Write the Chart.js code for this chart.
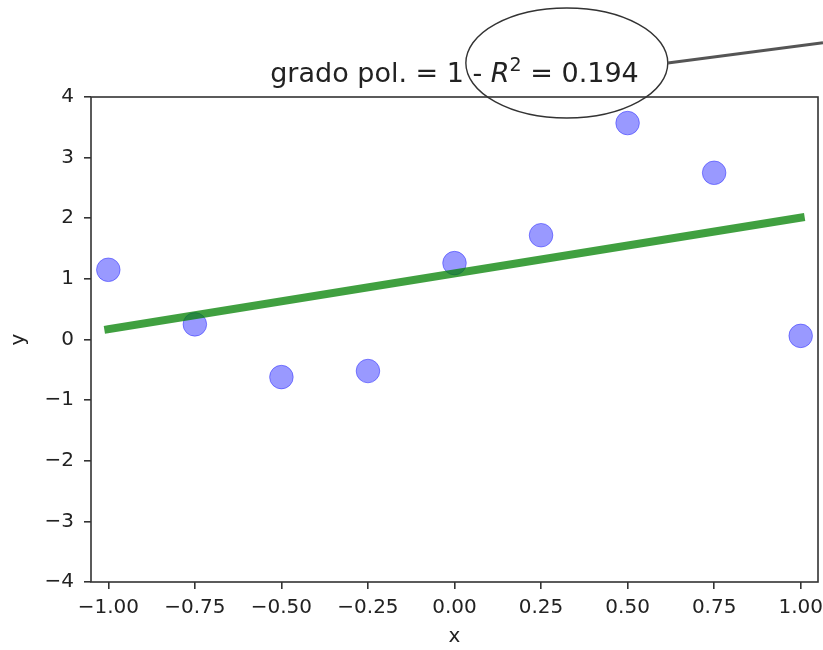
<!DOCTYPE html>
<html>
<head>
<meta charset="utf-8">
<title>grado pol. = 1</title>
<script src="https://cdn.jsdelivr.net/npm/chart.js@4.4.1/dist/chart.umd.min.js"></script>
<style>
    html, body { margin: 0; padding: 0; background: #fff; }
    #fitChart { display: block; }
</style>
</head>
<body>
<canvas id="fitChart" width="823" height="650"></canvas>
<script>
// ===============================
// DATA
// ===============================

const sampleX = [-1, -0.75, -0.5, -0.25, 0, 0.25, 0.5, 0.75, 1];
const sampleY = [1.15, 0.25, -0.62, -0.52, 1.26, 1.72, 3.57, 2.75, 0.06];

// fitted line (degree 1), evaluated at both ends
const fitX = [-1, 1];
const fitY = [0.17, 2.01];

const xTicks = [-1, -0.75, -0.5, -0.25, 0, 0.25, 0.5, 0.75, 1];
const yTicks = [-4, -3, -2, -1, 0, 1, 2, 3, 4];

const polyDegree = 1;
const rSquared = 0.194;

// ===============================
// HELPERS
// ===============================

const FONT = '"DejaVu Sans", sans-serif';
const INK = '#222';

function signed(v, digits) {
    const s = Math.abs(v).toFixed(digits);
    return v < 0 ? '\u2212' + s : s;
}

// title with italic R and superscript, circled R^2 part and a pointer line
const titlePlugin = {
    id: 'fitTitle',
    afterDraw(chart) {
        const { ctx, chartArea } = chart;
        const size = 27;
        const parts = [
            { text: 'grado pol. = ' + polyDegree + ' - ', font: `${size}px ${FONT}`, dy: 0 },
            { text: 'R', font: `italic ${size}px ${FONT}`, dy: 0 },
            { text: '2', font: `${Math.round(size * 0.7)}px ${FONT}`, dy: -11 },
            { text: ' = ' + rSquared.toFixed(3), font: `${size}px ${FONT}`, dy: 0 }
        ];

        ctx.save();
        let total = 0;
        parts.forEach(p => {
            ctx.font = p.font;
            p.w = ctx.measureText(p.text).width;
            total += p.w;
        });

        const baseline = chartArea.top - 15;
        let x = (chartArea.left + chartArea.right) / 2 - total / 2;
        let rStart = 0;
        ctx.fillStyle = INK;
        ctx.textBaseline = 'alphabetic';
        ctx.textAlign = 'left';
        parts.forEach((p, i) => {
            if (i === 1) rStart = x;
            ctx.font = p.font;
            ctx.fillText(p.text, x, baseline + p.dy);
            x += p.w;
        });
        const textEnd = x;

        // ellipse around "R^2 = ..."
        const cx = (rStart + textEnd) / 2 + 2;
        const cy = baseline - 19;
        const rx = (textEnd - rStart) / 2 + 27;
        const ry = 55;
        ctx.strokeStyle = '#333';
        ctx.lineWidth = 1.4;
        ctx.beginPath();
        ctx.ellipse(cx, cy, rx, ry, 0, 0, Math.PI * 2);
        ctx.stroke();

        // pointer line going off to the right
        const x0 = cx + rx;
        ctx.strokeStyle = '#555';
        ctx.lineWidth = 3;
        ctx.beginPath();
        ctx.moveTo(x0, cy);
        ctx.lineTo(chart.width, cy - (chart.width - x0) * 0.13);
        ctx.stroke();

        // axes frame
        ctx.strokeStyle = '#333';
        ctx.lineWidth = 1.6;
        ctx.strokeRect(chartArea.left, chartArea.top,
            chartArea.right - chartArea.left, chartArea.bottom - chartArea.top);
        ctx.restore();
    }
};

// ===============================
// CHART
// ===============================

const ctx = document.getElementById('fitChart');

new Chart(ctx, {
    type: 'scatter',
    data: {
        datasets: [
            {
                label: 'ajuste',
                data: fitX.map((x, i) => ({ x: x, y: fitY[i] })),
                showLine: true,
                borderColor: 'rgba(0,128,0,0.75)',
                borderWidth: 8,
                borderCapStyle: 'square',
                pointRadius: 0,
                order: 0
            },
            {
                label: 'datos',
                data: sampleX.map((x, i) => ({ x: x, y: sampleY[i] })),
                backgroundColor: 'rgba(0,0,255,0.4)',
                borderColor: 'rgba(0,0,255,0.4)',
                borderWidth: 1,
                pointRadius: 11.8,
                order: 1
            }
        ]
    },
    options: {
        responsive: false,
        animation: false,
        events: [],
        layout: {
            autoPadding: false,
            padding: { top: 97, right: 5, left: 0, bottom: 0 }
        },
        plugins: {
            legend: { display: false },
            tooltip: { enabled: false }
        },
        scales: {
            x: {
                type: 'linear',
                min: -1.05,
                max: 1.05,
                afterBuildTicks: scale => {
                    scale.ticks = xTicks.map(v => ({ value: v }));
                },
                afterFit: scale => {
                    scale.height = 68;
                    scale.paddingLeft = 0;
                    scale.paddingRight = 0;
                },
                ticks: {
                    autoSkip: false,
                    maxRotation: 0,
                    padding: 7,
                    color: INK,
                    font: { family: FONT, size: 20 },
                    callback: v => signed(v, 2)
                },
                grid: {
                    drawOnChartArea: false,
                    drawTicks: true,
                    tickLength: 7,
                    color: '#333',
                    lineWidth: 1.6
                },
                border: { display: false },
                title: {
                    display: true,
                    text: 'x',
                    color: INK,
                    font: { family: FONT, size: 20 },
                    padding: { top: 0, bottom: 1 }
                }
            },
            y: {
                type: 'linear',
                min: -4,
                max: 4,
                afterBuildTicks: scale => {
                    scale.ticks = yTicks.map(v => ({ value: v }));
                },
                afterFit: scale => {
                    scale.width = 91;
                    scale.paddingTop = 0;
                    scale.paddingBottom = 0;
                },
                ticks: {
                    autoSkip: false,
                    padding: 10,
                    color: INK,
                    font: { family: FONT, size: 20 },
                    callback: v => signed(v, 0)
                },
                grid: {
                    drawOnChartArea: false,
                    drawTicks: true,
                    tickLength: 7,
                    color: '#333',
                    lineWidth: 1.6
                },
                border: { display: false },
                title: {
                    display: true,
                    text: 'y',
                    color: INK,
                    font: { family: FONT, size: 20 },
                    padding: { top: 7, bottom: 0 }
                }
            }
        }
    },
    plugins: [titlePlugin]
});
</script>
</body>
</html>
